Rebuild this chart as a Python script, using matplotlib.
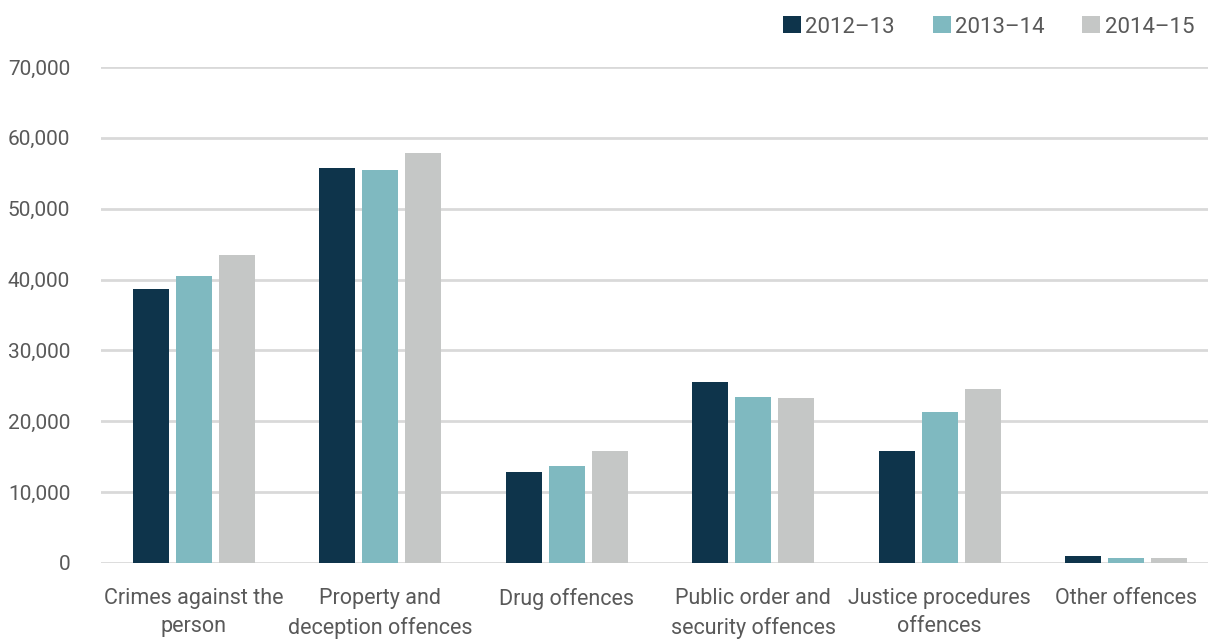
import numpy as np
import matplotlib.pyplot as plt
from matplotlib.ticker import FuncFormatter
from matplotlib import font_manager

categories = ["Crimes against the\nperson", "Property and\ndeception offences", "Drug offences",
              "Public order and\nsecurity offences", "Justice procedures\noffences", "Other offences"]
years = ["2012\u201313", "2013\u201314", "2014\u201315"]
v_2012 = [38700, 55800, 12800, 25600, 15750, 980]
v_2013 = [40500, 55400, 13700, 23450, 21250, 750]
v_2014 = [43450, 57800, 15750, 23300, 24600, 720]
colors = ["#0e344b", "#7fb9c0", "#c5c7c6"]

names = {f.name for f in font_manager.fontManager.ttflist}
family = "Liberation Sans Narrow" if "Liberation Sans Narrow" in names else "Roboto"
plt.rcParams['font.family'] = [family, 'DejaVu Sans']

fig = plt.figure(figsize=(12.08, 6.44), dpi=100)
ax = fig.add_axes([100.8 / 1208, 1 - 563 / 644, (1208 - 100.8) / 1208, (563 - 67) / 644])

x = np.arange(len(categories))
w = 0.193
step = 0.231
for i, (vals, lab) in enumerate(zip([v_2012, v_2013, v_2014], years)):
    ax.bar(x + (i - 1) * step, vals, w, color=colors[i], label=lab, zorder=3)

ax.set_ylim(0, 70000)
ax.set_xlim(-0.5, -0.5 + (1208 - 100.8) / 186.4)
ax.set_yticks(range(0, 70001, 10000))
ax.yaxis.set_major_formatter(FuncFormatter(lambda v, p: f"{int(v):,}"))
ax.grid(axis='y', color='#d9d9d9', lw=2, zorder=0)
for s in ax.spines.values():
    s.set_visible(False)
ax.tick_params(axis='y', length=0, pad=22, labelsize=15, labelcolor='#595959')
ax.set_xticks(x)
ax.set_xticklabels(categories, fontsize=15.5, color='#595959', linespacing=1.45)
ax.tick_params(axis='x', length=0, pad=18)

leg = fig.legend(loc='center right', bbox_to_anchor=(1194 / 1208, 1 - 27 / 644), ncol=3,
                 frameon=False, fontsize=16, handlelength=0.8, handleheight=0.8,
                 handletextpad=0.2, columnspacing=1.7, borderaxespad=0, borderpad=0)
for t in leg.get_texts():
    t.set_color('#595959')

fig.savefig("out.png", dpi=100)
